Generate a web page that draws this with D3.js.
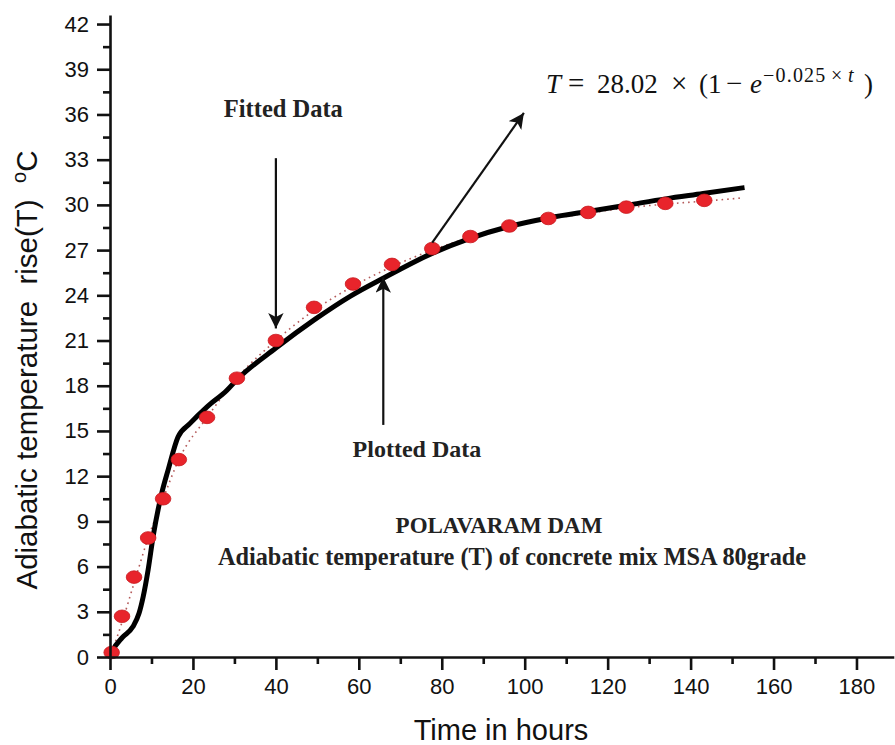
<!DOCTYPE html>
<html>
<head>
<meta charset="utf-8">
<script src="https://cdn.jsdelivr.net/npm/d3@7"></script>
<style>
  html, body { margin: 0; padding: 0; background: #fff; }
  svg { display: block; }
</style>
</head>
<body>
<svg id="chart" width="895" height="745"></svg>
<script>
// ---- data ----
const obsHours = [0.4, 2.9, 5.8, 9.2, 12.8, 16.6, 23.4, 30.6, 40, 49.2, 58.6, 68, 77.7, 86.9, 96.3, 105.7, 115.3, 124.5, 133.9, 143.3];
const obsTemp  = [0.3, 2.7, 5.3, 7.9, 10.5, 13.1, 15.9, 18.5, 21.0, 23.2, 24.75, 26.05, 27.1, 27.9, 28.6, 29.1, 29.5, 29.85, 30.1, 30.3];

const trendHours = [0, 2.9, 5.8, 9.2, 12.8, 16.6, 23.4, 30.6, 40, 49.2, 58.6, 68, 77.7, 86.9, 96.3, 105.7, 115.3, 124.5, 133.9, 143.3, 152];
const trendTemp  = [0, 2.3, 4.9, 7.9, 10.5, 13.1, 15.9, 18.5, 21.0, 23.0, 24.6, 25.9, 27.0, 27.85, 28.55, 29.05, 29.45, 29.8, 30.05, 30.25, 30.45];

const fitHours = [0, 0.7, 3, 5.5, 7, 8, 9.2, 10.4, 12.5, 14, 16.4, 19.3, 23.4, 28.2, 30.6, 40, 49.4, 58, 66, 77, 87, 96, 106, 116, 125, 134, 143, 153];
const fitTemp  = [0, 0.45, 1.3, 2.0, 2.9, 4.0, 5.8, 8.0, 10.9, 12.4, 14.6, 15.5, 16.6, 17.7, 18.4, 20.5, 22.4, 23.95, 25.15, 26.7, 27.8, 28.55, 29.15, 29.6, 30.0, 30.4, 30.75, 31.15];

const xTickValues = [0, 20, 40, 60, 80, 100, 120, 140, 160, 180];
const xMinorValues = [10, 30, 50, 70, 90, 110, 130, 150, 170];
const yTickValues = [0, 3, 6, 9, 12, 15, 18, 21, 24, 27, 30, 33, 36, 39, 42];
const yMinorValues = [1.5, 4.5, 7.5, 10.5, 13.5, 16.5, 19.5, 22.5, 25.5, 28.5, 31.5, 34.5, 37.5, 40.5];

const xTitle = "Time in hours";
const yTitle = "Adiabatic temperature  rise(T)  ";
const chartTitle1 = "POLAVARAM DAM";
const chartTitle2 = "Adiabatic temperature (T) of concrete mix MSA 80grade";
const fittedLabel = "Fitted Data";
const plottedLabel = "Plotted Data";

// ---- drawing ----
const svg = d3.select("#chart");
const x = d3.scaleLinear().domain([0, 189]).range([110, 893.8]);
const y = d3.scaleLinear().domain([0, 42.6]).range([657, 15]);

const defs = svg.append("defs");
defs.append("marker")
  .attr("id", "arrow")
  .attr("viewBox", "0 0 10 10")
  .attr("refX", 10).attr("refY", 5)
  .attr("markerWidth", 7).attr("markerHeight", 7)
  .attr("markerUnits", "strokeWidth")
  .attr("orient", "auto")
  .append("path")
  .attr("d", "M0,0 L10,5 L0,10 L2.5,5 Z")
  .attr("fill", "#111");

// dotted trend
const trend = trendHours.map((h, i) => [h, trendTemp[i]]);
svg.append("path")
  .datum(trend)
  .attr("fill", "none")
  .attr("stroke", "#b45a5a")
  .attr("stroke-width", 1.6)
  .attr("stroke-dasharray", "1.6,4")
  .attr("d", d3.line().x(d => x(d[0])).y(d => y(d[1])).curve(d3.curveMonotoneX));

// fitted black curve
const fit = fitHours.map((h, i) => [h, fitTemp[i]]);
svg.append("path")
  .datum(fit)
  .attr("fill", "none")
  .attr("stroke", "#000")
  .attr("stroke-width", 5)
  .attr("stroke-linejoin", "round")
  .attr("d", d3.line().x(d => x(d[0])).y(d => y(d[1])).curve(d3.curveMonotoneX));

// observed points
const obs = obsHours.map((h, i) => [h, obsTemp[i]]);
svg.append("g").selectAll("ellipse")
  .data(obs)
  .join("ellipse")
  .attr("cx", d => x(d[0]))
  .attr("cy", d => y(d[1]))
  .attr("rx", 7.8)
  .attr("ry", 6.3)
  .attr("fill", "#e8242b")
  .attr("stroke", "#c81a20")
  .attr("stroke-width", 0.8);

// axes
const xAxis = d3.axisBottom(x).tickValues(xTickValues).tickSize(13).tickSizeOuter(0).tickPadding(8);
const gx = svg.append("g").attr("transform", `translate(0,${y(0)})`).call(xAxis);
gx.selectAll("text").attr("font-family", "Liberation Sans, Arial, sans-serif").attr("font-size", 22).attr("fill", "#111");
gx.selectAll("path, line").attr("stroke", "#111").attr("stroke-width", 2.6);
const gxm = svg.append("g").attr("transform", `translate(0,${y(0)})`)
  .call(d3.axisBottom(x).tickValues(xMinorValues).tickSize(7).tickSizeOuter(0).tickFormat(""));
gxm.select(".domain").remove();
gxm.selectAll("line").attr("stroke", "#111").attr("stroke-width", 2.6);

const yAxis = d3.axisLeft(y).tickValues(yTickValues).tickSize(13).tickSizeOuter(0).tickPadding(8);
const gy = svg.append("g").attr("transform", `translate(${x(0)},0)`).call(yAxis);
gy.selectAll("text").attr("font-family", "Liberation Sans, Arial, sans-serif").attr("font-size", 22).attr("fill", "#111");
gy.selectAll("path, line").attr("stroke", "#111").attr("stroke-width", 2.6);
const gym = svg.append("g").attr("transform", `translate(${x(0)},0)`)
  .call(d3.axisLeft(y).tickValues(yMinorValues).tickSize(7).tickSizeOuter(0).tickFormat(""));
gym.select(".domain").remove();
gym.selectAll("line").attr("stroke", "#111").attr("stroke-width", 2.6);

// axis titles
svg.append("text")
  .attr("x", 501).attr("y", 740)
  .attr("text-anchor", "middle")
  .attr("font-family", "Liberation Sans, Arial, sans-serif")
  .attr("font-size", 29)
  .attr("fill", "#111")
  .text(xTitle);

const yt = svg.append("text")
  .attr("transform", "translate(37,370) rotate(-90)")
  .attr("text-anchor", "middle")
  .attr("font-family", "Liberation Sans, Arial, sans-serif")
  .attr("font-size", 29.5)
  .attr("fill", "#111")
  .attr("xml:space", "preserve")
  .style("white-space", "pre");
yt.append("tspan").text(yTitle);
yt.append("tspan").attr("font-size", 20).attr("dy", -11).text("o");
yt.append("tspan").attr("dy", 11).text("C");

// annotations
const serif = "Liberation Serif, Times New Roman, serif";
svg.append("text")
  .attr("x", x(41.8)).attr("y", 117)
  .attr("text-anchor", "middle")
  .attr("font-family", serif).attr("font-weight", "bold").attr("font-size", 24.5)
  .attr("fill", "#222")
  .text(fittedLabel);
svg.append("line")
  .attr("x1", x(40)).attr("y1", y(33.1)).attr("x2", x(40)).attr("y2", y(21.8))
  .attr("stroke", "#111").attr("stroke-width", 2.2).attr("marker-end", "url(#arrow)");

svg.append("text")
  .attr("x", x(74)).attr("y", 457)
  .attr("text-anchor", "middle")
  .attr("font-family", serif).attr("font-weight", "bold").attr("font-size", 24)
  .attr("fill", "#222")
  .text(plottedLabel);
svg.append("line")
  .attr("x1", x(65.9)).attr("y1", y(15.4)).attr("x2", x(65.9)).attr("y2", y(25.2))
  .attr("stroke", "#111").attr("stroke-width", 2.2).attr("marker-end", "url(#arrow)");

svg.append("line")
  .attr("x1", x(77.7)).attr("y1", y(27.5)).attr("x2", x(99.8)).attr("y2", y(36.1))
  .attr("stroke", "#111").attr("stroke-width", 2.2).attr("marker-end", "url(#arrow)");

// equation
const eqBase = 93, eqSup = 82;
const eq = svg.append("text")
  .attr("font-family", serif).attr("font-size", 27)
  .attr("fill", "#111");
eq.append("tspan").attr("x", 546).attr("y", eqBase).attr("font-style", "italic").text("T");
eq.append("tspan").attr("x", 568).attr("y", eqBase).attr("font-size", 29).text("=");
eq.append("tspan").attr("x", 597).attr("y", eqBase).text("28.02");
eq.append("tspan").attr("x", 671).attr("y", eqBase).attr("font-size", 29).text("×");
eq.append("tspan").attr("x", 699).attr("y", eqBase).text("(1");
eq.append("tspan").attr("x", 726).attr("y", eqBase).attr("font-size", 29).text("−");
eq.append("tspan").attr("x", 750).attr("y", eqBase).attr("font-style", "italic").text("e");
eq.append("tspan").attr("x", 763).attr("y", eqSup).attr("font-size", 20).attr("letter-spacing", 1.2).text("−0.025");
eq.append("tspan").attr("x", 831).attr("y", eqSup).attr("font-size", 20).text("×");
eq.append("tspan").attr("x", 848).attr("y", eqSup).attr("font-size", 20).attr("font-style", "italic").text("t");
eq.append("tspan").attr("x", 864).attr("y", eqBase).text(")");

// chart titles
svg.append("text")
  .attr("x", 499).attr("y", 533)
  .attr("text-anchor", "middle")
  .attr("font-family", serif).attr("font-weight", "bold").attr("font-size", 23)
  .attr("fill", "#222")
  .text(chartTitle1);
svg.append("text")
  .attr("x", 512).attr("y", 565)
  .attr("text-anchor", "middle")
  .attr("font-family", serif).attr("font-weight", "bold").attr("font-size", 24.3)
  .attr("fill", "#222")
  .text(chartTitle2);
</script>
</body>
</html>
